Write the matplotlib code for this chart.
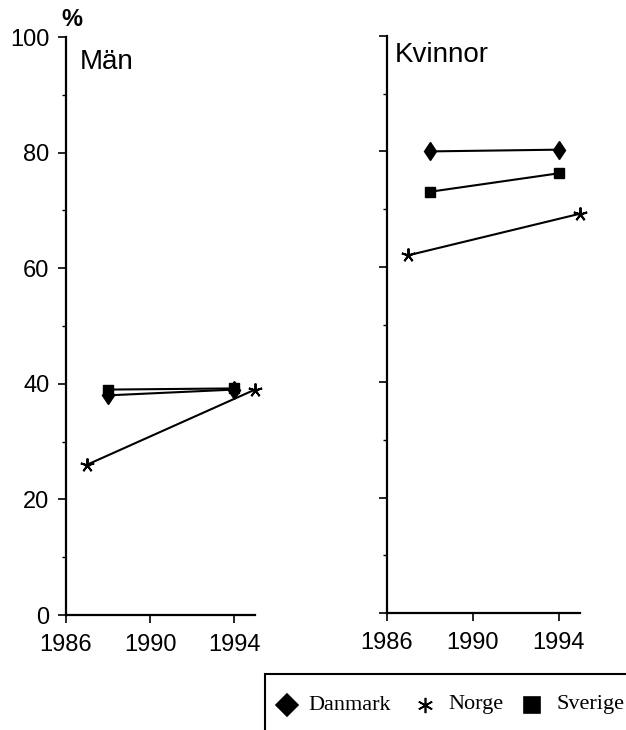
import matplotlib
matplotlib.use('Agg')
import matplotlib.pyplot as plt
from matplotlib.lines import Line2D
from matplotlib.patches import Rectangle
from matplotlib.ticker import MultipleLocator

plt.rcParams['font.family'] = ['Liberation Sans', 'DejaVu Sans']

# data
countries = ['Danmark', 'Norge', 'Sverige']
markers = {'Danmark': 'd', 'Norge': (5, 2, 0), 'Sverige': 's'}
msizes = {'Danmark': 9.5, 'Norge': 10, 'Sverige': 7.5}

man_years = {'Danmark': [1988, 1994], 'Norge': [1987, 1995], 'Sverige': [1988, 1994]}
man_vals = {'Danmark': [38, 39], 'Norge': [26, 39], 'Sverige': [39, 39.2]}

kvinnor_years = {'Danmark': [1988, 1994], 'Norge': [1987, 1995], 'Sverige': [1988, 1994]}
kvinnor_vals = {'Danmark': [80, 80.3], 'Norge': [62, 69.2], 'Sverige': [73, 76.2]}

xticks = [1986, 1990, 1994]
yticks = [0, 20, 40, 60, 80, 100]

W, H = 626, 730
fig = plt.figure(figsize=(W / 100, H / 100), dpi=100)


def px_axes(x0, x1, y0, y1):
    return fig.add_axes([x0 / W, 1 - y1 / H, (x1 - x0) / W, (y1 - y0) / H])


def setup(ax, show_ylabels):
    ax.set_xlim(1986, 1995)
    ax.set_ylim(0, 100)
    for s in ['top', 'right']:
        ax.spines[s].set_visible(False)
    for s in ['left', 'bottom']:
        ax.spines[s].set_linewidth(1.6)
    ax.set_xticks(xticks)
    ax.set_yticks(yticks)
    ax.yaxis.set_minor_locator(MultipleLocator(10))
    ax.tick_params(axis='both', which='major', direction='out', length=6,
                   width=1.2, labelsize=17, pad=6)
    ax.tick_params(axis='y', which='minor', direction='out', length=3, width=1)
    ax.tick_params(axis='x', pad=8)
    if not show_ylabels:
        ax.tick_params(axis='y', labelleft=False)


def draw(ax, years, vals):
    for c in countries:
        ax.plot(years[c], vals[c], color='black', lw=1.5, marker=markers[c],
                markersize=msizes[c], markeredgewidth=1.4 if c == 'Norge' else 1,
                clip_on=False)


ax1 = px_axes(66, 255, 37, 615)
setup(ax1, True)
draw(ax1, man_years, man_vals)
ax1.text(0.074, 0.98, 'Män', transform=ax1.transAxes, fontsize=20, va='top')

ax2 = px_axes(387, 580, 36, 613)
setup(ax2, False)
draw(ax2, kvinnor_years, kvinnor_vals)
ax2.text(0.04, 0.99, 'Kvinnor', transform=ax2.transAxes, fontsize=20, va='top')

fig.text(72 / W, 1 - 19 / H, '%', fontsize=17, fontweight='bold',
         ha='center', va='center')

# legend box, runs past the right and bottom edges
fig.patches.append(Rectangle((265 / W, -0.05), 0.6, 1 - 674 / H + 0.05,
                             transform=fig.transFigure, fill=False,
                             edgecolor='black', lw=1.5, clip_on=False))
leg_y = 1 - 705 / H
leg_mark_x = [287, 425, 532]
leg_text_x = [308, 448, 556]
leg_msize = {'Danmark': 11, 'Norge': 11, 'Sverige': 12}
leg_marker = {'Danmark': 'D', 'Norge': (6, 2, 0), 'Sverige': 's'}
for c, mx, tx in zip(countries, leg_mark_x, leg_text_x):
    fig.add_artist(Line2D([mx / W], [leg_y], transform=fig.transFigure,
                          marker=leg_marker[c], color='black', linestyle='none',
                          markersize=leg_msize[c], markeredgewidth=1.2))
    fig.text(tx / W, leg_y, c, family='Liberation Serif', fontsize=16,
             va='center', ha='left')

fig.savefig('out.png', dpi=100)
